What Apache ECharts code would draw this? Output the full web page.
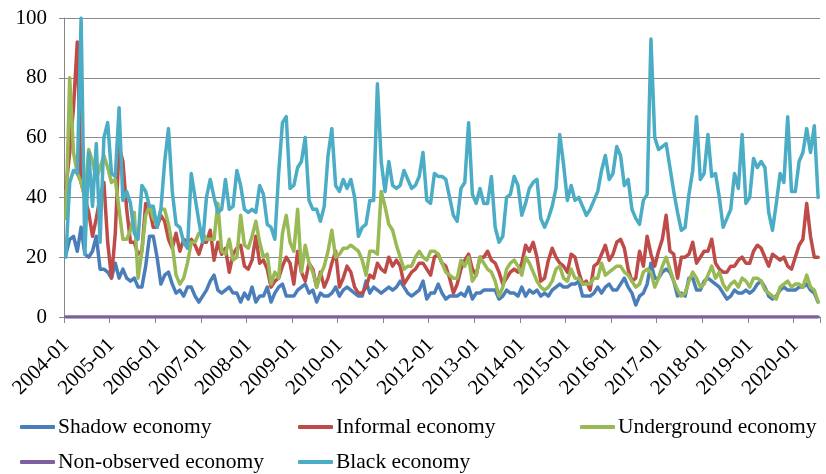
<!DOCTYPE html>
<html><head><meta charset="utf-8">
<script src="https://cdn.jsdelivr.net/npm/echarts@6/dist/echarts.min.js"></script>
<style>html,body{margin:0;padding:0;background:#fff}#c{width:826px;height:474px}</style>
</head><body><div id="c"></div>
<script>
const startYear = 2004, startMonth = 1, monthCount = 199;
const yTicks = [0, 20, 40, 60, 80, 100];
const seriesNames = ['Shadow economy','Informal economy','Underground economy','Non-observed economy','Black economy'];

const shadow = [21,26,27,22,30,21,20,22,27,16,
16,15,13,18,13,16,13,12,13,10,
10,17,27,27,20,11,14,15,11,8,
9,7,10,10,7,5,7,9,12,14,
9,8,9,10,8,8,5,8,6,10,
5,7,7,10,5,8,10,11,7,7,
7,9,10,11,8,9,5,8,7,7,
8,10,7,9,10,9,8,7,7,12,
8,10,9,8,9,10,9,10,12,10,
8,7,8,9,12,6,8,8,11,8,
6,7,7,7,8,7,10,6,8,8,
9,9,9,9,6,7,9,8,8,7,
10,7,9,8,9,7,8,7,9,10,
11,10,10,11,11,12,7,7,7,8,
10,8,10,11,9,9,11,13,10,8,
4,7,8,11,18,13,13,15,16,15,
12,7,8,7,13,13,9,9,12,13,
12,11,10,8,6,7,9,8,8,9,
8,9,11,12,10,7,6,7,9,10,
9,9,9,10,10,11,9,8,5];

const informal = [43,55,70,92,45,40,35,27,33,40,
45,25,13,28,57,52,36,25,25,21,
22,38,36,30,30,34,32,26,23,28,
22,26,25,26,24,21,25,25,29,19,
25,21,23,15,21,23,24,17,16,19,
27,18,19,16,10,12,13,17,20,18,
11,22,15,12,18,16,10,15,10,13,
18,22,10,13,17,15,10,8,8,10,
14,13,18,16,15,20,17,19,17,11,
13,15,16,18,18,16,14,20,21,18,
17,13,8,11,16,19,21,16,14,20,
20,22,19,18,15,11,13,15,16,15,
18,24,22,25,20,12,13,19,23,20,
18,17,15,21,20,15,11,12,9,17,
18,21,24,19,21,25,26,23,16,12,
13,22,17,27,21,17,22,26,34,22,
21,13,20,20,21,25,18,20,22,22,
26,18,16,15,15,17,17,19,20,18,
18,22,24,23,20,17,21,20,19,20,
17,16,20,24,26,38,27,20,20];

const underground = [33,80,55,48,45,40,56,52,46,50,
54,50,45,46,36,26,26,29,35,13,
22,34,37,33,31,36,36,31,24,14,
11,13,18,25,25,28,28,26,26,26,
38,22,21,26,19,20,34,24,23,27,
32,25,20,21,11,15,13,28,34,25,
22,36,15,24,18,15,10,14,17,22,
29,20,21,23,23,24,23,22,19,14,
22,22,21,42,37,31,29,24,20,16,
17,17,20,22,20,19,22,22,21,18,
15,14,13,13,19,17,20,12,14,20,
18,16,15,12,7,10,16,18,19,17,
14,20,18,15,12,10,9,10,12,16,
17,13,12,16,13,13,11,11,11,13,
13,18,14,15,16,17,17,15,14,12,
10,11,15,16,15,10,13,17,20,16,
12,9,7,8,12,15,13,10,11,14,
17,13,15,11,9,11,12,10,13,12,
10,13,13,12,9,8,7,6,10,11,
12,10,11,11,10,14,10,9,5];

const nonObserved = [0,0,0,0,0,0,0,0,0,0,
0,0,0,0,0,0,0,0,0,0,
0,0,0,0,0,0,0,0,0,0,
0,0,0,0,0,0,0,0,0,0,
0,0,0,0,0,0,0,0,0,0,
0,0,0,0,0,0,0,0,0,0,
0,0,0,0,0,0,0,0,0,0,
0,0,0,0,0,0,0,0,0,0,
0,0,0,0,0,0,0,0,0,0,
0,0,0,0,0,0,0,0,0,0,
0,0,0,0,0,0,0,0,0,0,
0,0,0,0,0,0,0,0,0,0,
0,0,0,0,0,0,0,0,0,0,
0,0,0,0,0,0,0,0,0,0,
0,0,0,0,0,0,0,0,0,0,
0,0,0,0,0,0,0,0,0,0,
0,0,0,0,0,0,0,0,0,0,
0,0,0,0,0,0,0,0,0,0,
0,0,0,0,0,0,0,0,0,0,
0,0,0,0,0,0,0,0,0];

const black = [20,45,49,48,100,21,55,37,58,25,
60,65,48,47,70,39,42,38,28,26,
44,42,37,37,30,36,52,63,42,31,
30,25,23,48,40,32,25,40,46,40,
35,36,46,36,37,49,44,36,35,36,
35,44,41,31,30,26,48,65,67,43,
44,50,52,60,39,36,36,32,37,54,
63,44,42,46,43,46,40,27,30,31,
39,39,78,52,42,52,44,43,44,49,
46,43,44,47,55,39,38,48,47,47,
46,40,34,32,43,45,65,41,38,43,
38,38,47,30,25,27,40,41,47,44,
34,38,43,45,46,33,30,33,37,43,
61,51,39,44,39,40,37,34,36,39,
42,49,54,46,48,57,54,44,46,36,
33,31,39,41,93,60,56,57,58,50,
42,35,29,30,41,49,67,46,48,61,
47,48,40,30,33,36,48,43,61,38,
40,53,50,52,50,35,29,38,48,45,
67,42,42,52,55,63,55,64,40];

const categories = [];
for (let k = 0; k < monthCount; k++) {
  const y = startYear + Math.floor((startMonth - 1 + k) / 12);
  const m = (startMonth - 1 + k) % 12 + 1;
  categories.push(y + '-' + String(m).padStart(2, '0'));
}

const colors = ['#4A7EBB', '#BE4B48', '#98B954', '#7D60A0', '#4BACC6'];
const seriesData = [shadow, informal, underground, nonObserved, black];
const FONT = '"Liberation Serif", "Times New Roman", serif';

const legendPos = [[20, 416], [298, 416], [580, 416], [20, 451], [298, 451]];

const chart = echarts.init(document.getElementById('c'), null, {renderer: 'canvas'});
chart.setOption({
  animation: false,
  backgroundColor: '#fff',
  color: colors,
  grid: {left: 64, right: 6, top: 18, bottom: 157, containLabel: false},
  legend: seriesNames.map((n, i) => ({
    data: [n], left: legendPos[i][0], top: legendPos[i][1], padding: 0,
    icon: 'roundRect', itemWidth: 35, itemHeight: 4, itemGap: 0,
    textStyle: {fontFamily: FONT, fontSize: 21.5, color: '#000', padding: [0, 0, 0, -2]},
    selectedMode: false
  })),
  xAxis: {
    type: 'category', data: categories, boundaryGap: true,
    axisLine: {show: true, lineStyle: {color: '#868686', width: 1}},
    axisTick: {show: true, interval: 11, length: 6, lineStyle: {color: '#868686'}},
    axisLabel: {interval: 11, rotate: 45, fontFamily: FONT, fontSize: 21, color: '#000', margin: 25},
    splitLine: {show: false}
  },
  yAxis: {
    type: 'value', min: yTicks[0], max: yTicks[yTicks.length - 1], interval: 20,
    axisLine: {show: true, lineStyle: {color: '#868686', width: 1}},
    axisTick: {show: true, length: 5, lineStyle: {color: '#868686'}},
    axisLabel: {fontFamily: FONT, fontSize: 21, color: '#000', margin: 17},
    splitLine: {show: true, lineStyle: {color: '#8a8a8a', width: 1}}
  },
  series: seriesNames.map((n, i) => ({
    name: n, type: 'line', data: seriesData[i], symbol: 'none', smooth: false,
    lineStyle: {width: 3.5, color: colors[i], join: 'round', cap: 'round'},
    itemStyle: {color: colors[i]},
    z: 2 + i
  }))
});
</script>
</body></html>
